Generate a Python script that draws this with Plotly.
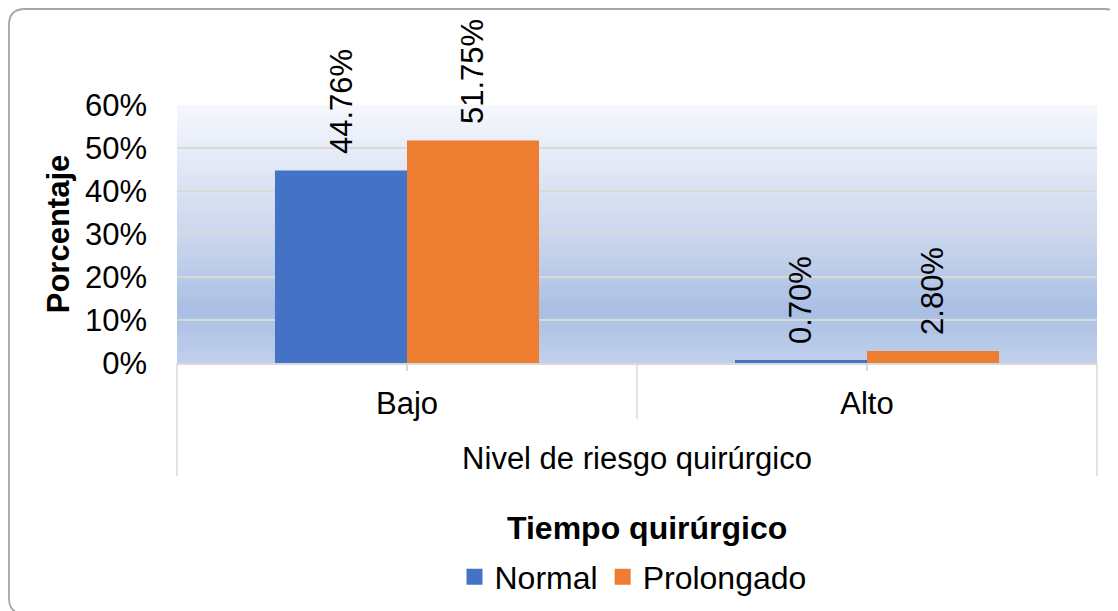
import plotly.graph_objects as go

categories = ["Bajo", "Alto"]
normal = [0.4476, 0.0070]
prolongado = [0.5175, 0.0280]
series_names = ["Normal", "Prolongado"]
series_colors = ["#4472C4", "#ED7D31"]
y_ticks = [0, 0.1, 0.2, 0.3, 0.4, 0.5, 0.6]
legend_title = "Tiempo quirúrgico"
x_title = "Nivel de riesgo quirúrgico"
y_title = "Porcentaje"

W, H = 1118, 611
OFF = 8  # default page margin of the html body
# plot area in page pixels
L, R, T, B = 177, 1097, 105, 363
FONT = "Liberation Sans, Arial, sans-serif"


def px(xp):
    return (xp - L) / (R - L)


def py(yp):
    return (B - yp) / (B - T)


fig = go.Figure()
for name, vals, col in zip(series_names, [normal, prolongado], series_colors):
    fig.add_trace(go.Bar(name=name, x=categories, y=vals, showlegend=False,
                         marker=dict(color=col, line=dict(width=0))))
for name, col in zip(series_names, series_colors):
    fig.add_trace(go.Scatter(name=name, x=[None], y=[None], mode="markers",
                             marker=dict(symbol="square", size=16, color=col),
                             showlegend=True))

shapes = []
stops = [(0.0, (245, 247, 252)), (0.5, (203, 215, 238)), (0.8, (169, 190, 227)), (1.0, (192, 208, 236))]


def grad(t):
    for (a, ca), (b, cb) in zip(stops[:-1], stops[1:]):
        if a <= t <= b:
            f = (t - a) / (b - a)
            return tuple(round(ca[i] + (cb[i] - ca[i]) * f) for i in range(3))
    return stops[-1][1]


N = 120
for i in range(N):
    t = (i + 0.5) / N
    c = grad(t)
    shapes.append(dict(type="rect", xref="paper", yref="paper", x0=0, x1=1,
                       y0=1 - i / N, y1=1 - (i + 1) / N + (-0.002 if i < N - 1 else 0),
                       fillcolor="rgb(%d,%d,%d)" % c, line=dict(width=0), layer="below"))

for xp_, yb in [(L, 476), ((L + R) / 2, 419), (R, 476)]:
    shapes.append(dict(type="line", xref="paper", yref="paper", x0=px(xp_), x1=px(xp_),
                       y0=0, y1=py(yb), line=dict(color="#D9D9D9", width=1.5)))

# outer rounded frame (page pixel coordinates)
x0, x1, y0, y1, r = 9, 1121, 9, 614, 16
path = (f"M {px(x0 + r)},{py(y0)} L {px(x1 - r)},{py(y0)} Q {px(x1)},{py(y0)} {px(x1)},{py(y0 + r)} "
        f"L {px(x1)},{py(y1 - r)} Q {px(x1)},{py(y1)} {px(x1 - r)},{py(y1)} "
        f"L {px(x0 + r)},{py(y1)} Q {px(x0)},{py(y1)} {px(x0)},{py(y1 - r)} "
        f"L {px(x0)},{py(y0 + r)} Q {px(x0)},{py(y0)} {px(x0 + r)},{py(y0)} Z")
shapes.append(dict(type="path", xref="paper", yref="paper", path=path,
                   line=dict(color="#A6A6A6", width=1.8), layer="above"))

annotations = []
for vals, shift in [(normal, -66), (prolongado, 66)]:
    for c, v in zip(categories, vals):
        annotations.append(dict(x=c, y=v, xref="x", yref="y", text=f"{v * 100:.2f}%",
                                showarrow=False, textangle=-90, xshift=shift, yshift=14,
                                xanchor="center", yanchor="bottom",
                                font=dict(family=FONT, size=31, color="black")))
annotations.append(dict(x=px(647), y=py(528), xref="paper", yref="paper",
                        text=f"<b>{legend_title}</b>", showarrow=False,
                        xanchor="center", yanchor="middle",
                        font=dict(family=FONT, size=32, color="black")))

fig.update_layout(
    width=W, height=H,
    margin=dict(l=L - OFF, r=W - (R - OFF), t=T - OFF, b=H - (B - OFF)),
    paper_bgcolor="white", plot_bgcolor="rgba(0,0,0,0)",
    barmode="group", bargap=0.426, bargroupgap=0,
    font=dict(family=FONT, size=31, color="black"),
    shapes=shapes, annotations=annotations,
    showlegend=True,
    legend=dict(orientation="h", x=px(633), xanchor="center", y=py(577), yanchor="middle",
                font=dict(family=FONT, size=32, color="black"), itemsizing="trace",
                bgcolor="rgba(0,0,0,0)"),
    xaxis=dict(type="category", range=[-0.5, 1.5], showgrid=False, zeroline=False,
               showline=True, linecolor="#D9D9D9", linewidth=1.5,
               ticks="outside", ticklen=6, tickcolor="#D9D9D9", tickwidth=1.5,
               ticklabelstandoff=6,
               tickfont=dict(family=FONT, size=31, color="black"),
               title=dict(text=x_title, standoff=27,
                          font=dict(family=FONT, size=31, color="black"))),
    yaxis=dict(range=[0, 0.6], tickvals=y_ticks, tickformat=".0%", showgrid=True,
               gridcolor="#D9D9D9", gridwidth=1.5, zeroline=False, showline=False,
               ticks="", ticklabelstandoff=29,
               tickfont=dict(family=FONT, size=31, color="black"),
               title=dict(text=f"<b>{y_title}</b>", standoff=6,
                          font=dict(family=FONT, size=31, color="black"))),
)

fig.write_html("out.html", config={"displayModeBar": False})
